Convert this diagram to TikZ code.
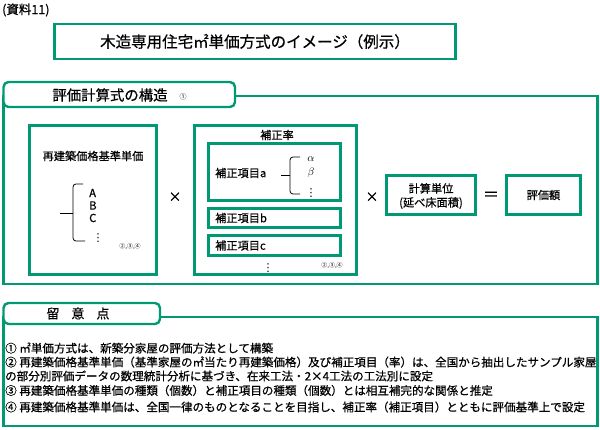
\documentclass[tikz,border=0pt]{standalone}
\usepackage{fontspec}
\setmainfont{Noto Sans CJK JP}[FakeBold=0.6]
\newfontfamily\plainjp{Noto Sans CJK JP}
\newfontfamily\symfont{DejaVu Sans}
\usetikzlibrary{positioning}
\definecolor{frame}{RGB}{0,153,115}
\tikzset{
  box/.style   ={rectangle, draw=frame, line width=2.6pt, fill=white, inner sep=0pt},
  tab/.style   ={rectangle, rounded corners=5pt, draw=frame, line width=2.4pt,
                 fill=white, inner sep=0pt},
  lbl/.style   ={inner sep=0pt, font={\fontsize{11.2pt}{14pt}\selectfont}},
  small/.style ={inner sep=0pt, font={\plainjp\fontsize{6pt}{7pt}\selectfont}},
  note/.style  ={inner sep=0pt, anchor=west, font={\fontsize{11.55pt}{13pt}\selectfont}},
  op/.style    ={inner sep=0pt, font={\fontsize{13pt}{15pt}\selectfont}},
  greek/.style ={inner sep=0pt, font={\fontsize{11pt}{13pt}\selectfont}},
  dots/.style  ={inner sep=0pt, font={\symfont\fontsize{11pt}{13pt}\selectfont}},
  brace/.style ={line width=0.8pt, rounded corners=3pt},
}

\begin{document}
\begin{tikzpicture}[x=1pt, y=-1pt]
    \useasboundingbox (0,0) rectangle (600,430);

    % heading
    \node[inner sep=0pt, anchor=west, font={\fontsize{12.5pt}{14pt}\selectfont}] (ref) at (2,10) {(資料11)};
    \node[box, minimum width=401pt, minimum height=35pt,
          font={\fontsize{15.5pt}{18pt}\selectfont}] (title) at (255,41.5)
        {木造専用住宅㎡単価方式のイメージ（例示）};

    % structure of the formula
    \draw[frame, line width=2.4pt] (3.5,96) rectangle (597.5,284);
    \node[tab, minimum width=231.5pt, minimum height=25pt] (head1) at (119.25,94.5) {};
    \node[inner sep=0pt, font={\fontsize{14.4pt}{17pt}\selectfont}] (head1t) at (110,95) {評価計算式の構造};
    \node[small, font={\plainjp\fontsize{7pt}{8pt}\selectfont}] (n1) at (183,97) {①};

    % base unit price
    \node[box, minimum width=127pt, minimum height=149pt] (base) at (93,200) {};
    \node[lbl] (baset) at (93,156) {再建築価格基準単価};
    \node[lbl, anchor=west] (ka) at (89,193) {A};
    \node[lbl, anchor=west] (kb) at (89,205.5) {B};
    \node[lbl, anchor=west] (kc) at (89,218) {C};
    \node[dots] (kd) at (98,238) {⋮};
    \draw[brace] (83,184) -- (73,184) -- (73,241) -- (85,241);
    \draw[line width=0.8pt] (60,213) -- (73,213);
    \node[small] (n2) at (130,247) {②,③,④};

    \node[op] (x1) at (175,197) {×};

    % correction rate
    \node[box, minimum width=162pt, minimum height=149pt] (rate) at (275.5,200) {};
    \node[lbl] (ratet) at (277,135) {補正率};
    \node[box, minimum width=132pt, minimum height=57pt] (itema) at (274.5,172) {};
    \node[box, minimum width=132pt, minimum height=19pt] (itemb) at (274.5,218) {};
    \node[box, minimum width=132pt, minimum height=20pt] (itemc) at (274.5,245.5) {};
    \node[lbl, anchor=west] (itemat) at (215,173) {補正項目a};
    \node[lbl, anchor=west] (itembt) at (215,218) {補正項目b};
    \node[lbl, anchor=west] (itemct) at (215,245.5) {補正項目c};
    \draw[brace] (300,157) -- (290,157) -- (290,194) -- (300,194);
    \draw[line width=0.8pt] (281,175) -- (290,175);
    \node[greek] (al) at (311,159.5) {$\alpha$};
    \node[greek] (be) at (311,173) {$\beta$};
    \node[dots] (ga) at (311,193) {⋮};
    \node[dots] (rd) at (268,268.5) {⋮};
    \node[small] (n3) at (332,266) {②,③,④};

    \node[op] (x2) at (372,197) {×};

    % unit and value
    \node[box, minimum width=89pt, minimum height=39pt] (unit) at (431,195) {};
    \node[lbl, align=center] (unitt) at (431,196) {計算単位\\(延べ床面積)};
    \node[op, font={\fontsize{16pt}{18pt}\selectfont}] (eq) at (491,196) {＝};
    \node[box, minimum width=74pt, minimum height=39pt] (value) at (543.5,195) {};
    \node[lbl] (valuet) at (543.5,195) {評価額};

    % remarks
    \draw[frame, line width=2.4pt] (3.5,317) rectangle (597.5,426);
    \node[tab, minimum width=156.5pt, minimum height=21pt] (head2) at (81.75,313.5) {};
    \node[inner sep=0pt, font={\fontsize{13pt}{15pt}\selectfont}] (head2t) at (78,313.5)
        {留\hspace{12pt}意\hspace{12pt}点};
    \node[note] (r1) at (5,348) {① ㎡単価方式は、新築分家屋の評価方法として構築};
    \node[note] (r2) at (5,362) {② 再建築価格基準単価（基準家屋の㎡当たり再建築価格）及び補正項目（率）は、全国から抽出したサンプル家屋};
    \node[note] (r3) at (5,376) {の部分別評価データの数理統計分析に基づき、在来工法・2×4工法の工法別に設定};
    \node[note] (r4) at (5,390.5) {③ 再建築価格基準単価の種類（個数）と補正項目の種類（個数）とは相互補完的な関係と推定};
    \node[note] (r5) at (5,407) {④ 再建築価格基準単価は、全国一律のものとなることを目指し、補正率（補正項目）とともに評価基準上で設定};
\end{tikzpicture}
\end{document}
